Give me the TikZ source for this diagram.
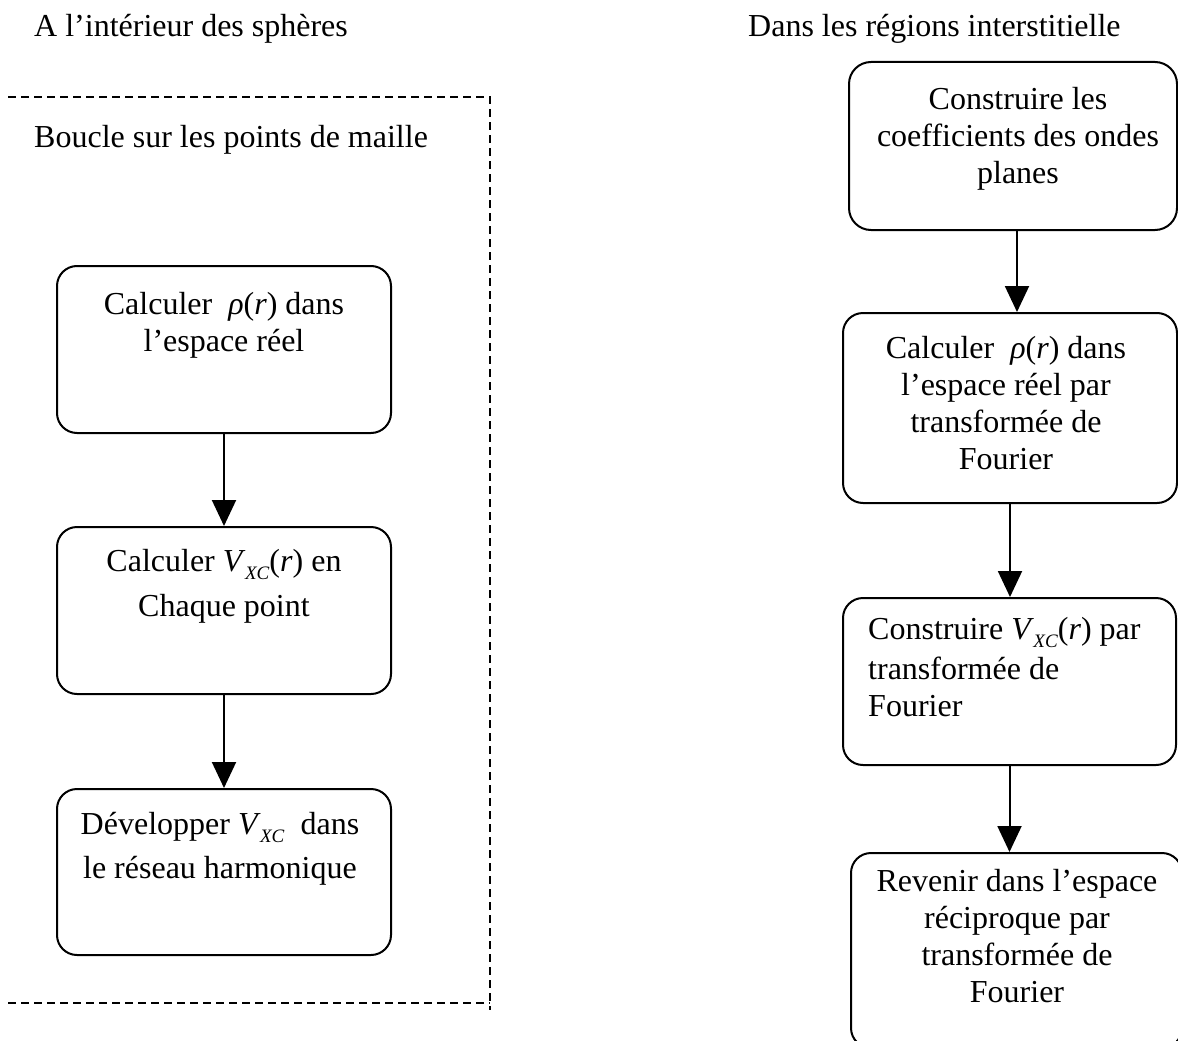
\documentclass[tikz,border=0pt]{standalone}
\usepackage{fontspec}
\setmainfont{Liberation Serif}
\usetikzlibrary{arrows.meta,calc}

% inline formulas used in the step labels
\newcommand{\rhoofr}{\textit{ρ}(\textit{r})}
\newcommand{\Vsub}{\textit{V}\kern-0.5pt\raisebox{-8pt}{\fontsize{19}{19}\selectfont\textit{XC}}}

\begin{document}
\begin{tikzpicture}[x=1pt,y=-1pt,
    stepbox/.style={draw, line width=2pt, rounded corners=20pt, inner sep=0pt},
    steptext/.style={inner sep=0pt, font=\fontsize{32}{37}\selectfont,
                     execute at begin node=\strut},
    heading/.style={inner sep=0pt, font=\fontsize{32}{37}\selectfont, anchor=base west},
    arr/.style={line width=2pt, -{Triangle[length=26pt,width=24pt]}},
    loopline/.style={line width=1.5pt, dash pattern=on 8pt off 5pt}]

  \path[use as bounding box] (0,0) rectangle (1178,1041);
  \clip (0,0) rectangle (1178,1041);

  % column headings
  \node[heading] (hleft)  at (34,37)  {A l’intérieur des sphères};
  \node[heading] (hright) at (748,37) {Dans les régions interstitielle};

  % dashed frame of the grid-point loop
  \draw[loopline] (8,97) -- (490,97) -- (490,1010);
  \draw[loopline] (8,1003) -- (490,1003);
  \node[heading] (hloop) at (34,147) {Boucle sur les points de maille};

  % left column: inside the spheres
  \node[stepbox, minimum width=334pt, minimum height=167pt] (l1) at (224,349.5) {};
  \node[stepbox, minimum width=334pt, minimum height=167pt] (l2) at (224,610.5) {};
  \node[stepbox, minimum width=334pt, minimum height=166pt] (l3) at (224,872) {};

  \node[steptext, anchor=north, align=center] (l1t) at (224,292)
    {Calculer\ \ \rhoofr\ dans\\l’espace réel};
  \node[steptext, anchor=north, align=center] (l2t) at (224,549)
    {Calculer \Vsub(\textit{r}) en\\[8pt]Chaque point};
  \node[steptext, anchor=north, align=center] (l3t) at (220,812)
    {Développer \Vsub\ \ dans\\[7pt]le réseau harmonique};

  \draw[arr] (l1.south) -- (l2.north);
  \draw[arr] (l2.south) -- (l3.north);

  % right column: interstitial regions
  \node[stepbox, rounded corners=22pt, minimum width=328pt, minimum height=168pt] (r1) at (1013,146) {};
  \node[stepbox, minimum width=334pt, minimum height=190pt] (r2) at (1010,408) {};
  \node[stepbox, minimum width=333pt, minimum height=167pt] (r3) at (1009.5,681.5) {};
  \node[stepbox, minimum width=331pt, minimum height=195pt] (r4) at (1016.5,950.5) {};

  \node[steptext, anchor=north, align=center] (r1t) at (1018,87)
    {Construire les\\coefficients des ondes\\planes};
  \node[steptext, anchor=north, align=center] (r2t) at (1006,336)
    {Calculer\ \ \rhoofr\ dans\\l’espace réel par\\transformée de\\Fourier};
  \node[steptext, anchor=north west, align=left] (r3t) at (868,617)
    {Construire \Vsub(\textit{r}) par\\[3pt]transformée de\\Fourier};
  \node[steptext, anchor=north, align=center] (r4t) at (1017,869)
    {Revenir dans l’espace\\réciproque par\\transformée de\\Fourier};

  \draw[arr] ([xshift=4pt]r1.south) -- ([xshift=7pt]r2.north);
  \draw[arr] (r2.south) -- (r2.south |- r3.north);
  \draw[arr] (r3.south) -- (r3.south |- r4.north);
\end{tikzpicture}
\end{document}
